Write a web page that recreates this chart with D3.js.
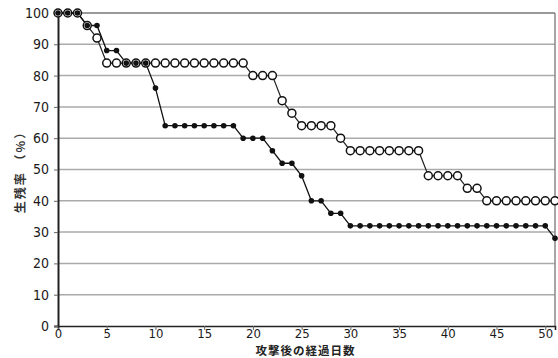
<!DOCTYPE html>
<html>
<head>
<meta charset="utf-8">
<script src="https://cdn.jsdelivr.net/npm/d3@7"></script>
<style>
  body { margin: 0; background: #fff; }
  .tick text { font-family: "Liberation Sans Narrow", "DejaVu Sans Condensed", sans-serif; font-size: 14px; fill: #1a1a1a; }
  .xaxis .tick text { font-size: 13px; }
</style>
</head>
<body>
<script>
const width = 558; const height = 358;

// days after the attack
const days = d3.range(0, 52);

// survival rate (%), filled markers
const filledSeries = [100,100,100,96,96,88,88,84,84,84,76,64,64,64,64,64,64,64,64,60,
  60,60,56,52,52,48,40,40,36,36,32,32,32,32,32,32,32,32,32,32,
  32,32,32,32,32,32,32,32,32,32,32,28];

// survival rate (%), open markers
const openSeries = [100,100,100,96,92,84,84,84,84,84,84,84,84,84,84,84,84,84,84,84,
  80,80,80,72,68,64,64,64,64,60,56,56,56,56,56,56,56,56,48,48,
  48,48,44,44,40,40,40,40,40,40,40,40];

const xTicks = [0,5,10,15,20,25,30,35,40,45,50];
const yTicks = [0,10,20,30,40,50,60,70,80,90,100];

const xLabel = "攻撃後の経過日数";
const yLabel = "生残率 （%）";

const plotLeft = 58, plotRight = 555, plotTop = 13, plotBottom = 326;

let x = d3.scaleLinear().domain([0, 51]).range([plotLeft, plotRight]);
let y = d3.scaleLinear().domain([0, 100]).range([plotBottom, plotTop]);

const svg = d3.select("body")
    .append("svg")
    .attr("width", width)
    .attr("height", height);

// gridlines
svg.append("g")
    .selectAll("line")
    .data(yTicks.slice(1))
    .enter()
    .append("line")
    .attr("x1", plotLeft).attr("x2", plotRight)
    .attr("y1", d => y(d)).attr("y2", d => y(d))
    .attr("stroke", d => d == 100 ? "#777" : "#aaa")
    .attr("stroke-width", 1.5);

// right border
svg.append("line")
    .attr("x1", plotRight).attr("x2", plotRight)
    .attr("y1", plotTop).attr("y2", plotBottom)
    .attr("stroke", "#888")
    .attr("stroke-width", 1.5);

//bottom
const xAxis = svg.append("g")
    .attr("class", "xaxis")
    .attr("transform", "translate(0," + plotBottom + ")")
    .call(d3.axisBottom(x).tickValues(xTicks).tickSize(4).tickPadding(-1.7));
xAxis.select(".domain").attr("stroke", "#222").attr("stroke-width", 1.6);
xAxis.selectAll(".tick line").attr("stroke", "#666");

//left
const yAxis = svg.append("g")
    .attr("transform", "translate(" + plotLeft + ",0)")
    .call(d3.axisLeft(y).tickValues(yTicks).tickSize(4).tickPadding(5));
yAxis.select(".domain").attr("stroke", "#222").attr("stroke-width", 2);
yAxis.selectAll(".tick line").attr("stroke", "#666");

svg.append("text")
    .attr("x", (plotLeft + plotRight) / 2 - 1)
    .attr("y", 354.5)
    .attr("text-anchor", "middle")
    .attr("font-family", "Noto Sans CJK JP")
    .attr("font-size", 11.5)
    .attr("letter-spacing", 1)
    .attr("font-weight", "bold")
    .attr("fill", "#222")
    .text(xLabel);

svg.append("text")
    .attr("transform", "translate(25,169) rotate(-90)")
    .attr("text-anchor", "middle")
    .attr("font-family", "Noto Sans CJK JP")
    .attr("font-size", 12)
    .attr("letter-spacing", 2)
    .attr("font-weight", "bold")
    .attr("fill", "#333")
    .text(yLabel);

const line = d3.line()
    .x((d, i) => x(days[i]))
    .y(d => y(d));

// open series first so filled dots sit on top
svg.append("path")
    .datum(openSeries)
    .attr("d", line)
    .attr("fill", "none")
    .attr("stroke", "#222")
    .attr("stroke-width", 1.2);

svg.append("path")
    .datum(filledSeries)
    .attr("d", line)
    .attr("fill", "none")
    .attr("stroke", "#111")
    .attr("stroke-width", 1.3);

svg.append("g")
    .selectAll("circle")
    .data(openSeries)
    .enter()
    .append("circle")
    .attr("cx", (d, i) => x(days[i]))
    .attr("cy", d => y(d))
    .attr("r", 4)
    .attr("fill", "#fff")
    .attr("stroke", "#111")
    .attr("stroke-width", 1.5);

svg.append("g")
    .selectAll("circle")
    .data(filledSeries)
    .enter()
    .append("circle")
    .attr("cx", (d, i) => x(days[i]))
    .attr("cy", d => y(d))
    .attr("r", 2.8)
    .attr("fill", "#111");
</script>
</body>
</html>
